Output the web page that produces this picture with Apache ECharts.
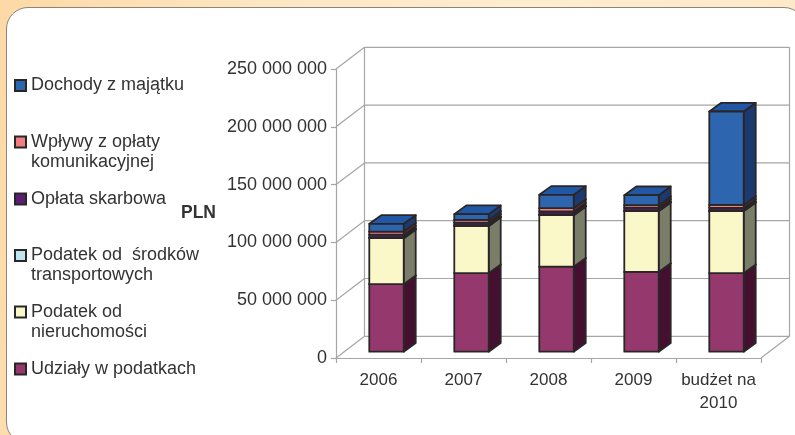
<!DOCTYPE html>
<html>
<head>
<meta charset="utf-8">
<script src="https://cdn.jsdelivr.net/npm/echarts@6/dist/echarts.min.js"></script>
<style>
html, body { margin: 0; padding: 0; width: 795px; height: 435px; overflow: hidden; }
body { background: linear-gradient(100deg, #fdd9a6 0%, #fde6c2 30%, #feedcf 60%, #fde8c6 100%); position: relative; }
#panel { position: absolute; left: 6px; top: 7px; width: 800px; height: 437px; background: #fff; border: 1px solid #8a8578; border-radius: 22px; box-sizing: border-box; }
#chart { position: absolute; left: 0; top: 0; width: 795px; height: 435px; }
</style>
</head>
<body>
<div id="panel"></div>
<div id="chart"></div>
<script>
var categories = ['2006', '2007', '2008', '2009', 'budżet na\n2010'];
var yTicks = [0, 50000000, 100000000, 150000000, 200000000, 250000000];

// wartosci w mln PLN
var udzialy = [58.4, 67.9, 73.6, 69.0, 67.9];
var nieruchomosci = [39.8, 40.9, 44.5, 52.6, 53.7];
var transport = [0.7, 0.6, 0.7, 0.6, 0.6];
var skarbowa = [2.3, 2.2, 2.5, 2.4, 2.3];
var komunikacja = [2.7, 2.4, 2.9, 2.2, 2.5];
var majatek = [6.7, 5.0, 11.5, 8.6, 80.8];

var names = ['Udziały w podatkach', 'Podatek od\nnieruchomości', 'Podatek od  środków\ntransportowych',
    'Opłata skarbowa', 'Wpływy z opłaty\nkomunikacyjnej', 'Dochody z majątku'];
var values = [udzialy, nieruchomosci, transport, skarbowa, komunikacja, majatek];
var frontColors = ['#94386e', '#faf8c8', '#bfe6f0', '#5c1e70', '#f08080', '#2d66ae'];
var sideColors = ['#451030', '#7a7e68', '#5a7078', '#2a1030', '#703838', '#1c3a70'];
var topColors = ['#7a2c5a', '#f0eeb8', '#a8d4e0', '#4a1860', '#d87070', '#2058a6'];

var WALL_DX = 28.5, WALL_DY = 21.7;   // glebokosc sciany tylnej
var BAR_DX = 12, BAR_DY = 8.7;        // glebokosc slupka
var OFF_DX = 8, OFF_DY = 6.3;         // przesuniecie slupka od osi
var EDGE = '#2a2628', WALL = '#a6a6a6', TEXT = '#333333';

var chart = echarts.init(document.getElementById('chart'));

function poly(points, fill) {
    return {
        type: 'polygon',
        shape: { points: points },
        style: { fill: fill, stroke: EDGE, lineWidth: 1.8, lineJoin: 'round' }
    };
}

function line(x1, y1, x2, y2) {
    return {
        type: 'line',
        shape: { x1: x1, y1: y1, x2: x2, y2: y2 },
        style: { stroke: WALL, lineWidth: 1.2 }
    };
}

function renderWall(params, api) {
    var grid = params.coordSys;
    var left = grid.x, right = grid.x + grid.width;
    var y = api.coord([0, api.value(1)])[1];
    var children = [
        line(left, y, left + WALL_DX, y - WALL_DY),
        line(left + WALL_DX, y - WALL_DY, right + WALL_DX, y - WALL_DY)
    ];
    if (params.dataIndex === 0) {
        children.push(line(right, y, right + WALL_DX, y - WALL_DY));
        children.push(line(left + WALL_DX, y - WALL_DY, left + WALL_DX, y - WALL_DY - grid.height));
        children.push(line(right + WALL_DX, y - WALL_DY, right + WALL_DX, y - WALL_DY - grid.height));
    }
    return { type: 'group', children: children };
}

function makeRender(s) {
    return function (params, api) {
        var i = api.value(0);
        var band = api.size([1, 0])[0];
        var w = band * 0.405;
        var x0 = api.coord([i, 0])[0] - w / 2 + OFF_DX;
        var x1 = x0 + w;
        var yb = api.coord([i, api.value(1)])[1] - OFF_DY;
        var yt = api.coord([i, api.value(2)])[1] - OFF_DY;
        return {
            type: 'group',
            children: [
                poly([[x1, yb], [x1 + BAR_DX, yb - BAR_DY], [x1 + BAR_DX, yt - BAR_DY], [x1, yt]], sideColors[s]),
                poly([[x0, yt], [x1, yt], [x1 + BAR_DX, yt - BAR_DY], [x0 + BAR_DX, yt - BAR_DY]], topColors[s]),
                poly([[x0, yb], [x1, yb], [x1, yt], [x0, yt]], frontColors[s])
            ]
        };
    };
}

var series = [{
    name: 'wall',
    type: 'custom',
    silent: true,
    z: 1,
    renderItem: renderWall,
    data: yTicks.map(function (v, i) { return [0, v]; })
}];
var running = categories.map(function () { return 0; });
values.forEach(function (arr, s) {
    series.push({
        name: names[s],
        type: 'custom',
        z: 2 + s,
        itemStyle: { color: frontColors[s], borderColor: EDGE, borderWidth: 1.4 },
        renderItem: makeRender(s),
        data: arr.map(function (v, i) {
            var start = running[i];
            running[i] += v * 1000000;
            return [i, start, running[i]];
        })
    });
});

// legenda: kazdy wpis osobno, bo odstepy sa rowne a tekst ma 1 lub 2 linie
var LINE = 20;
var symbolY = [369, 312, 255.5, 199, 142, 85.5];
var legends = names.map(function (n, s) {
    var two = n.indexOf('\n') >= 0;
    return {
        data: [n],
        left: 14,
        top: two ? symbolY[s] - LINE * 1.5 : symbolY[s] - LINE / 2,
        padding: 0,
        orient: 'vertical',
        icon: 'rect',
        itemWidth: 11,
        itemHeight: 11,
        selectedMode: false,
        // pusta pierwsza linia: znacznik wypada na wysokosci pierwszego wiersza tekstu
        formatter: function (name) {
            return name.indexOf('\n') >= 0 ? ' \n' + name : name;
        },
        textStyle: {
            color: TEXT,
            fontFamily: 'Liberation Sans',
            fontSize: 18,
            lineHeight: LINE
        }
    };
});

var option = {
    animation: false,
    legend: legends,
    grid: { left: 336, top: 69, width: 425, height: 289, containLabel: false },
    xAxis: {
        type: 'category',
        data: categories,
        axisLine: { lineStyle: { color: WALL, width: 1.2 } },
        axisTick: { show: true, alignWithLabel: false, length: 5, lineStyle: { color: WALL, width: 1.2 } },
        axisLabel: { color: TEXT, fontFamily: 'Liberation Sans', fontSize: 17, lineHeight: 23, margin: 11, interval: 0 }
    },
    yAxis: {
        type: 'value',
        min: 0,
        max: 250000000,
        interval: 50000000,
        name: 'PLN',
        nameLocation: 'middle',
        nameRotate: 0,
        nameGap: 120,
        nameTextStyle: { color: TEXT, fontFamily: 'Liberation Sans', fontSize: 17.5, fontWeight: 'bold' },
        splitLine: { show: false },
        axisLine: { show: true, lineStyle: { color: WALL, width: 1.2 } },
        axisTick: { show: true, length: 5, lineStyle: { color: WALL, width: 1.2 } },
        axisLabel: {
            color: TEXT, fontFamily: 'Liberation Sans', fontSize: 18, margin: 9,
            formatter: function (v) { return String(v).replace(/\B(?=(\d{3})+$)/g, ' '); }
        }
    },
    series: series
};
chart.setOption(option);
</script>
</body>
</html>
